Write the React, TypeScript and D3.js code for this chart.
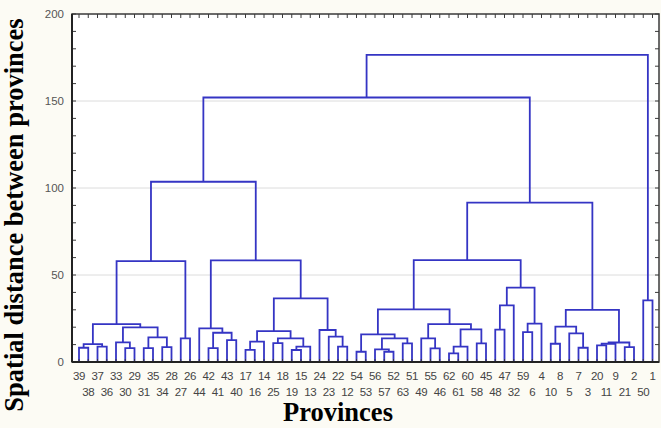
import React from "react";
import * as d3 from "d3";

// Leaf order along the x axis (left to right)
const leafOrder = [
  "39","38","37","36","33","30","29","31","35","34","28","27","26",
  "44","42","41","43","40","17","16","14","25","18","19","15","13",
  "24","23","22","12","54","53","56","57","52","63","51","49","55",
  "46","62","61","60","58","45","48","47","32","59","6","4","10",
  "8","5","7","3","20","11","9","21","2","50","1",
];

// Merges: [cluster id, left child, right child, linkage distance]
const merges: [string, string, string, number][] = [
  ["m1", "39", "38", 8.2],
  ["m2", "37", "36", 8.8],
  ["m3", "m1", "m2", 10.3],
  ["m4", "30", "29", 8.0],
  ["m5", "33", "m4", 11.3],
  ["m6", "31", "35", 8.0],
  ["m7", "34", "28", 8.5],
  ["m8", "m6", "m7", 14.2],
  ["m9", "m5", "m8", 19.9],
  ["m10", "m3", "m9", 21.8],
  ["m11", "27", "26", 13.6],
  ["m12", "m10", "m11", 58.0],
  ["m13", "42", "41", 8.0],
  ["m14", "43", "40", 12.6],
  ["m15", "m13", "m14", 16.8],
  ["m16", "44", "m15", 19.3],
  ["m17", "17", "16", 7.0],
  ["m18", "m17", "14", 11.7],
  ["m19", "25", "18", 10.9],
  ["m20", "19", "15", 6.9],
  ["m21", "m20", "13", 8.8],
  ["m22", "m19", "m21", 13.6],
  ["m23", "m18", "m22", 17.8],
  ["m24", "22", "12", 8.8],
  ["m25", "23", "m24", 14.6],
  ["m26", "24", "m25", 18.4],
  ["m27", "m23", "m26", 36.6],
  ["m28", "m16", "m27", 58.4],
  ["m29", "m12", "m28", 103.6],
  ["r1", "54", "53", 5.9],
  ["r2", "57", "52", 5.9],
  ["r3", "56", "r2", 7.3],
  ["r4", "63", "51", 10.7],
  ["r5", "r3", "r4", 13.6],
  ["r6", "r1", "r5", 15.9],
  ["r7", "55", "46", 7.8],
  ["r8", "49", "r7", 13.6],
  ["r9", "62", "61", 5.0],
  ["r10", "r9", "60", 8.8],
  ["r11", "58", "45", 10.7],
  ["r12", "r10", "r11", 18.8],
  ["r13", "r8", "r12", 21.8],
  ["r14", "r6", "r13", 30.3],
  ["r15", "48", "47", 18.6],
  ["r16", "r15", "32", 32.5],
  ["r17", "59", "6", 17.2],
  ["r18", "r17", "4", 22.0],
  ["r19", "r16", "r18", 42.7],
  ["r20", "r14", "r19", 58.6],
  ["r21", "10", "8", 10.5],
  ["r22", "7", "3", 8.2],
  ["r23", "5", "r22", 16.5],
  ["r24", "r21", "r23", 20.3],
  ["r25", "20", "11", 9.5],
  ["r26", "r25", "9", 10.5],
  ["r27", "21", "2", 8.5],
  ["r28", "r26", "r27", 11.2],
  ["r29", "r24", "r28", 30.0],
  ["r30", "r20", "r29", 91.6],
  ["r31", "m29", "r30", 152.0],
  ["r32", "50", "1", 35.4],
  ["root", "r31", "r32", 176.5],
];

const yTicks = [0, 50, 100, 150, 200];
const yMinorTicks = d3.range(0, 201, 10);
const yTitle = "Spatial distance between provinces";
const xTitle = "Provinces";

type TreeNode = { name: string; h: number; children?: TreeNode[] };

function buildTree(): TreeNode {
  const map = new Map<string, TreeNode>();
  leafOrder.forEach((l) => map.set(l, { name: l, h: 0 }));
  let last: TreeNode | null = null;
  merges.forEach(([id, a, b, h]) => {
    const n: TreeNode = { name: id, h, children: [map.get(a)!, map.get(b)!] };
    map.set(id, n);
    last = n;
  });
  return last!;
}

export default function App() {
  const W = 661;
  const H = 428;
  const left = 72;
  const right = 659;
  const top = 14;
  const bottom = 362;

  const x = d3.scalePoint<string>().domain(leafOrder).range([79, 652.5]);
  const y = d3.scaleLinear().domain([0, 200]).range([bottom, top]);

  const root = d3.hierarchy<TreeNode>(buildTree());
  const px = new Map<any, number>();
  root.eachAfter((n: any) => {
    if (!n.children) px.set(n, x(n.data.name)!);
    else px.set(n, d3.mean(n.children, (c: any) => px.get(c)!)!);
  });

  const links: string[] = [];
  root.each((n: any) => {
    if (n.children) {
      const [a, b] = n.children;
      const p = d3.path();
      p.moveTo(px.get(a)!, y(a.data.h));
      p.lineTo(px.get(a)!, y(n.data.h));
      p.lineTo(px.get(b)!, y(n.data.h));
      p.lineTo(px.get(b)!, y(b.data.h));
      links.push(p.toString());
    }
  });

  const lineColor = "#3535c4";
  const axisColor = "#3a3a3a";
  const labelFont = "'Liberation Sans', Arial, sans-serif";
  const serif = "'Liberation Serif', 'Times New Roman', serif";

  return (
    <svg
      width={W}
      height={H}
      style={{ position: "absolute", left: 0, top: 0, display: "block" }}
    >
      <rect x={0} y={0} width={W} height={H} fill="#fcfbf4" />
      <rect x={left} y={top} width={right - left} height={bottom - top} fill="#ffffff" />
      {/* gridlines */}
      {yTicks
        .filter((t) => t > 0 && t < 200)
        .map((t) => (
          <line key={"g" + t} x1={left} x2={right} y1={y(t)} y2={y(t)} stroke="#dcdcdc" strokeWidth={1} />
        ))}
      {/* dendrogram */}
      {links.map((d, i) => (
        <path key={i} d={d} fill="none" stroke={lineColor} strokeWidth={1.8} />
      ))}
      {/* minor ticks on left and right */}
      {yMinorTicks.map((t) => (
        <g key={"mt" + t}>
          <line x1={left} x2={left + 4} y1={y(t)} y2={y(t)} stroke={axisColor} strokeWidth={1} />
          <line x1={right - 4} x2={right} y1={y(t)} y2={y(t)} stroke={axisColor} strokeWidth={1} />
        </g>
      ))}
      {/* ticks at top and bottom per leaf */}
      {leafOrder.map((l) => (
        <g key={"lt" + l}>
          <line x1={x(l)} x2={x(l)} y1={top} y2={top + 4} stroke={axisColor} strokeWidth={1} />
          <line x1={x(l)} x2={x(l)} y1={bottom} y2={bottom - 3} stroke={axisColor} strokeWidth={1} />
        </g>
      ))}
      {/* frame */}
      <rect x={left} y={top} width={right - left} height={bottom - top} fill="none" stroke={axisColor} strokeWidth={1.5} />
      <line x1={left} x2={left} y1={top} y2={bottom} stroke="#222" strokeWidth={2} />
      <line x1={left} x2={right} y1={bottom} y2={bottom} stroke="#222" strokeWidth={2} />
      {/* y tick labels */}
      {yTicks.map((t) => (
        <text key={"yl" + t} x={64} y={y(t)} dy="0.35em" textAnchor="end" fontFamily={labelFont} fontSize={11.5} fill="#555">
          {t}
        </text>
      ))}
      {/* leaf labels */}
      {leafOrder.map((l, i) => (
        <text
          key={"ll" + l}
          x={x(l)}
          y={i % 2 === 0 ? 380 : 396}
          textAnchor="middle"
          fontFamily={labelFont}
          fontSize={11.5}
          letterSpacing={-0.4}
          fill="#444"
        >
          {l}
        </text>
      ))}
      {/* titles */}
      <text
        transform="translate(23,215) rotate(-90)"
        textAnchor="middle"
        fontFamily={serif}
        fontWeight="bold"
        fontSize={26.5}
        fill="#000"
      >
        {yTitle}
      </text>
      <text x={338} y={421} textAnchor="middle" fontFamily={serif} fontWeight="bold" fontSize={26.5} fill="#000">
        {xTitle}
      </text>
    </svg>
  );
}
